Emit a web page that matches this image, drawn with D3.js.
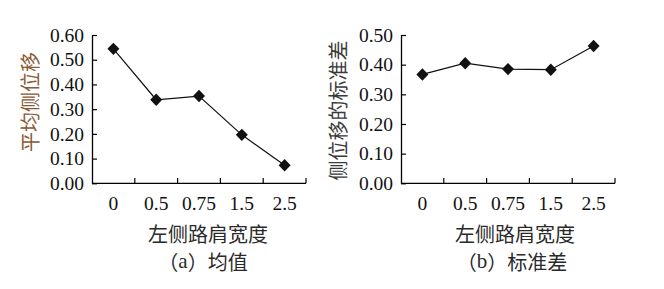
<!DOCTYPE html>
<html><head><meta charset="utf-8">
<script src="https://cdn.jsdelivr.net/npm/d3@7"></script>
<style>
html,body{margin:0;padding:0;background:#fff;}
svg{display:block;}
</style></head>
<body>
<svg id="chart" width="664" height="289"></svg>
<script>
const categories = ["0", "0.5", "0.75", "1.5", "2.5"];
const meanValues = [0.544, 0.338, 0.353, 0.196, 0.073];
const stdValues = [0.367, 0.405, 0.385, 0.383, 0.463];
const meanTicks = [0, 0.1, 0.2, 0.3, 0.4, 0.5, 0.6];
const stdTicks = [0, 0.1, 0.2, 0.3, 0.4, 0.5];
const xTitle = "左侧路肩宽度";
const panelLetters = ["a", "b"];
const panelNames = ["均值", "标准差"];
const yTitles = ["平均侧位移", "侧位移的标准差"];

const svg = d3.select("#chart");
const numFont = "'Liberation Serif', 'Times New Roman', serif";
const cjkFont = "'Noto Sans CJK SC', sans-serif";

function panel(cfg) {
  const g = svg.append("g");
  const x = d3.scaleBand().domain(categories).range([cfg.left, cfg.right]).padding(0);
  const y = d3.scaleLinear().domain([0, cfg.ymax]).range([183.3, 35]);

  const ya = g.append("g").attr("transform", `translate(${cfg.left},0)`)
    .call(d3.axisLeft(y).tickValues(cfg.ticks).tickFormat(d3.format(".2f")).tickSize(-5).tickSizeOuter(0).tickPadding(8));
  ya.select(".domain").attr("stroke", "#000").attr("stroke-width", 1.3);
  ya.selectAll(".tick line").attr("stroke", "#000").attr("stroke-width", 1.2);
  ya.selectAll("text").attr("font-family", numFont).attr("font-size", 19.5).attr("fill", "#111");

  const xa = g.append("g").attr("transform", `translate(0,183.3)`)
    .call(d3.axisBottom(x).tickSize(0).tickPadding(13));
  xa.select(".domain").attr("stroke", "#000").attr("stroke-width", 1.3)
    .attr("d", `M${cfg.left},0H${cfg.right}`);
  xa.selectAll("text").attr("font-family", numFont).attr("font-size", 19.5).attr("fill", "#111");

  g.append("g").selectAll("line").data(categories).join("line")
    .attr("x1", d => x(d) + x.bandwidth()).attr("x2", d => x(d) + x.bandwidth())
    .attr("y1", 183.3).attr("y2", 178)
    .attr("stroke", "#000").attr("stroke-width", 1.2);

  const line = d3.line().x((d, i) => x(categories[i]) + x.bandwidth() / 2).y(d => y(d));
  g.append("path").datum(cfg.values).attr("d", line)
    .attr("fill", "none").attr("stroke", "#111").attr("stroke-width", 1.2);

  g.append("g").selectAll("path").data(cfg.values).join("path")
    .attr("transform", (d, i) => `translate(${x(categories[i]) + x.bandwidth() / 2},${y(d)})`)
    .attr("d", "M0,-6.2L6,0L0,6.2L-6,0Z")
    .attr("fill", "#111");

  g.append("text").attr("x", cfg.xTitleX).attr("y", 233.5)
    .attr("text-anchor", "middle").attr("dominant-baseline", "central")
    .attr("font-family", cjkFont).attr("font-size", 20).attr("fill", "#2a2a2a")
    .text(xTitle);
  const pt = g.append("text").attr("x", cfg.panelTitleX).attr("y", 261)
    .attr("text-anchor", "middle").attr("dominant-baseline", "central")
    .attr("font-family", cjkFont).attr("font-size", 20).attr("fill", "#2a2a2a");
  pt.append("tspan").text("（");
  pt.append("tspan").attr("font-family", numFont).attr("font-size", 21).text(cfg.letter);
  pt.append("tspan").text("）" + cfg.name);

  g.append("text")
    .attr("transform", `translate(${cfg.yTitleX},${cfg.yTitleY}) rotate(-90)`)
    .attr("text-anchor", "middle").attr("dominant-baseline", "central")
    .attr("font-family", cjkFont).attr("font-size", 20).attr("fill", cfg.yTitleColor)
    .text(cfg.yTitle);
}

panel({left: 92, right: 306, ymax: 0.6, ticks: meanTicks, values: meanValues,
  xTitleX: 208, panelTitleX: 203, letter: panelLetters[0], name: panelNames[0],
  yTitle: yTitles[0], yTitleX: 29, yTitleY: 102, yTitleColor: "#8a5a35"});
panel({left: 401, right: 615, ymax: 0.5, ticks: stdTicks, values: stdValues,
  xTitleX: 515, panelTitleX: 512, letter: panelLetters[1], name: panelNames[1],
  yTitle: yTitles[1], yTitleX: 337, yTitleY: 110.5, yTitleColor: "#3a3a3a"});
</script>
</body></html>
